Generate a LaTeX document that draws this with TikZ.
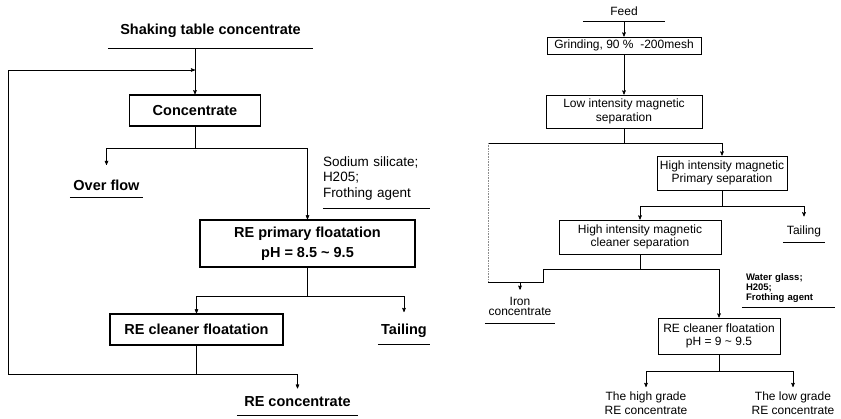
\documentclass[tikz,border=0pt]{standalone}
\usepackage{fontspec}
\setmainfont{Liberation Sans}
\usetikzlibrary{arrows}
\usetikzlibrary{calc}
\newcommand{\bigtext}{\fontsize{14.5}{20}\selectfont\bfseries}
\newcommand{\smalltext}{\fontsize{12}{13.5}\selectfont}
\newcommand{\reagenttext}{\fontsize{13.5}{15.5}\selectfont}
\newcommand{\reagentbold}{\fontsize{9.5}{10.2}\selectfont\bfseries}
\tikzset{
  bigbox/.style={draw, line width=1.4pt, font=\bigtext, align=center, inner sep=0pt},
  smallbox/.style={draw, line width=0.9pt, font=\smalltext, align=center, inner sep=0pt},
  link/.style={draw, line width=0.6pt},
  faint/.style={draw, line width=0.6pt, black!45, densely dotted},
  arrow/.style={->, >=stealth', line width=0.6pt},
  uline/.style={inner xsep=0pt, inner ysep=#1,
    append after command={(\tikzlastnode.south west) edge[line width=1pt] (\tikzlastnode.south east)}}
}
\begin{document}
\begin{tikzpicture}[x=1pt, y=-1pt]
\useasboundingbox (0,0) rectangle (841,418);
% left flowsheet
\node[uline=10pt, minimum width=205pt, font=\bigtext, anchor=south] (shaking) at (210.5,48) {Shaking table concentrate};
\node[bigbox, minimum width=131pt, minimum height=31pt] (conc) at (195,110.5) {Concentrate};
\node[uline=6pt, minimum width=73pt, font=\bigtext, anchor=south] (over) at (106.5,197) {Over flow};
\node[uline=8pt, text width=107pt, align=left, font=\reagenttext, anchor=south] (reag1) at (376.5,208) {Sodium silicate;\\H205;\\Frothing agent};
\node[bigbox, minimum width=215pt, minimum height=47pt] (prim) at (307.5,243.5) {RE primary floatation\\pH = 8.5 \textasciitilde\ 9.5};
\node[bigbox, minimum width=173pt, minimum height=31pt] (clean) at (196.5,329.5) {RE cleaner floatation};
\node[uline=6pt, minimum width=52pt, font=\bigtext, anchor=south] (tail1) at (404,344) {Tailing};
\node[uline=8pt, minimum width=121pt, font=\bigtext, anchor=south] (reconc) at (297.5,415) {RE concentrate};
\coordinate (j1) at (195,148);
\coordinate (j2) at (307.5,296);
\coordinate (j3) at (196.5,374);
\coordinate (loopbot) at (8,374);
\coordinate (looptop) at (8,70);
\draw[arrow] (shaking.south -| conc.north) -- (conc.north);
\draw[link] (conc.south) -- (j1);
\draw[arrow, shorten >=9pt] (j1) -| (over.north);
\draw[arrow] (j1) -| (prim.north);
\draw[link] (prim.south) -- (j2);
\draw[arrow] (j2) -| (clean.north);
\draw[arrow, shorten >=6pt] (j2) -| (tail1.north);
\draw[link] (clean.south) -- (j3);
\draw[arrow] (j3) -- (loopbot) -- (looptop) -- (looptop -| conc.north);
\draw[arrow] (j3) -| (reconc.north);
% right flowsheet
\node[uline=5pt, minimum width=82pt, font=\smalltext, anchor=south] (feed) at (624,21) {Feed};
\node[smallbox, minimum width=154pt, minimum height=17pt] (grind) at (624,45.5) {Grinding, 90 \%\ \ -200mesh};
\node[smallbox, minimum width=156pt, minimum height=33pt] (lims) at (624,111.5) {Low intensity magnetic\\separation};
\node[smallbox, minimum width=130pt, minimum height=34pt] (hprim) at (722,173) {High intensity magnetic\\Primary separation};
\node[smallbox, minimum width=162pt, minimum height=34pt] (hclean) at (640,237) {High intensity magnetic\\cleaner separation};
\node[uline=5pt, minimum width=42pt, font=\smalltext, anchor=south] (tail2) at (804,242) {Tailing};
\node[uline=4pt, inner xsep=4pt, text width=85pt, align=left, font=\reagentbold, anchor=south] (reag2) at (788.5,307) {Water glass;\\H205;\\Frothing agent};
\node[uline=7pt, minimum width=70pt, align=center, font=\fontsize{12}{10.5}\selectfont, anchor=south] (iron) at (520,323) {Iron\\concentrate};
\node[smallbox, minimum width=122pt, minimum height=36pt] (reclean) at (719,336) {RE cleaner floatation\\pH = 9 \textasciitilde\ 9.5};
\node[font=\smalltext, align=center, anchor=north, inner sep=0pt] (high) at (646,392) {The high grade\\RE concentrate};
\node[font=\smalltext, align=center, anchor=north, inner sep=0pt] (low) at (793,392) {The low grade\\RE concentrate};
\coordinate (j4) at (624,143);
\coordinate (ironL) at (488,282);
\coordinate (ironR) at (543,282);
\coordinate (j5) at (722,206);
\coordinate (j6) at (640,269);
\coordinate (j7) at (719,371);
\draw[arrow] (feed.south) -- (grind.north);
\draw[arrow] (grind.south) -- (lims.north);
\draw[link] (lims.south) -- (j4);
\draw[arrow] (j4) -| (hprim.north);
\draw[link] (j4) -- (j4 -| ironL);
\draw[faint] (j4 -| ironL) -- (ironL);
\draw[link] (ironL) -- (ironR) |- (j6);
\draw[arrow] (iron.north |- ironL) -- (iron.north);
\draw[link] (hprim.south) -- (j5);
\draw[arrow] (j5) -| (hclean.north);
\draw[arrow, shorten >=4pt] (j5) -| (tail2.north);
\draw[link] (hclean.south) -- (j6);
\draw[arrow] (j6) -| (reclean.north);
\draw[link] (reclean.south) -- (j7);
\draw[arrow, shorten >=5pt] (j7) -| (high.north);
\draw[arrow, shorten >=5pt] (j7) -| (low.north);
\end{tikzpicture}
\end{document}
